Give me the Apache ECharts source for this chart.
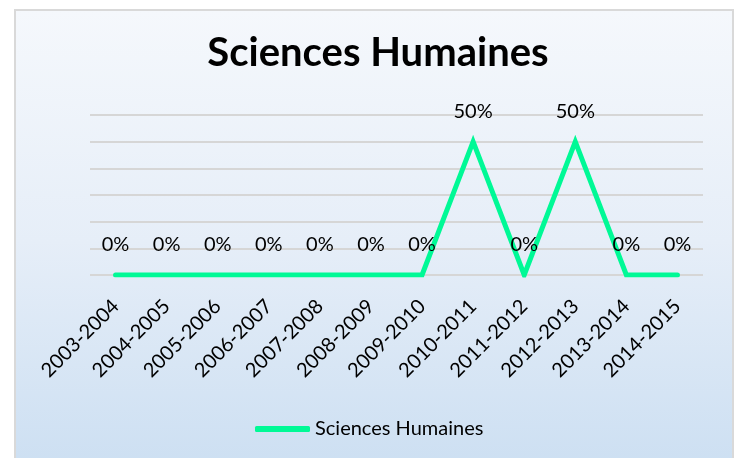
<!DOCTYPE html>
<html lang="fr">
<head>
	<meta charset="UTF-8">
	<title>Sciences Humaines</title>
	<style>
		html, body {
			margin: 0;
			padding: 0;
			background: #fff;
		}
		#frame {
			position: absolute;
			left: 14px;
			top: 9px;
			width: 716px;
			height: 460px;
			border: 2px solid #D9D9D9;
			background: linear-gradient(to bottom, #F5F8FC 0%, #E6EEF8 50%, #CCDFF2 100%);
		}
		#main {
			position: absolute;
			left: 0;
			top: 0;
			width: 736px;
			height: 458px;
		}
	</style>
	<script src="https://cdn.jsdelivr.net/npm/echarts@6/dist/echarts.min.js"></script>
</head>
<body>
	<div id="frame"></div>
	<div id="main"></div>

	<script>
		// années scolaires
		var years = ['2003-2004', '2004-2005', '2005-2006', '2006-2007', '2007-2008', '2008-2009',
			'2009-2010', '2010-2011', '2011-2012', '2012-2013', '2013-2014', '2014-2015'];
		// pourcentages
		var values = [0, 0, 0, 0, 0, 0, 0, 50, 0, 50, 0, 0];
		var seriesName = 'Sciences Humaines';

		var font = 'Lato, "DejaVu Sans", sans-serif';
		var green = '#00F996';

		var myChart = echarts.init(document.getElementById('main'));

		var option = {
			animation: false,
			title: {
				text: 'Sciences Humaines',
				left: 373,
				textAlign: 'center',
				top: 28,
				textStyle: {
					fontFamily: font,
					fontSize: 40,
					fontWeight: 'bold',
					color: '#000'
				}
			},
			legend: {
				data: [seriesName],
				left: 250,
				top: 414,
				icon: 'roundRect',
				itemWidth: 55,
				itemHeight: 6,
				textStyle: {
					fontFamily: font,
					fontSize: 20,
					color: '#000'
				}
			},
			grid: {
				left: 90,
				right: 33,
				top: 115,
				bottom: 183,
				containLabel: false
			},
			xAxis: {
				type: 'category',
				data: years,
				boundaryGap: true,
				axisLine: { show: false },
				axisTick: { show: false },
				axisLabel: {
					rotate: 45,
					margin: 28,
					interval: 0,
					fontFamily: font,
					fontSize: 20,
					color: '#000'
				}
			},
			yAxis: {
				type: 'value',
				min: 0,
				max: 60,
				interval: 10,
				axisLine: { show: false },
				axisTick: { show: false },
				axisLabel: { show: false },
				splitLine: {
					lineStyle: { color: '#D6D6D6', width: 2 }
				}
			},
			series: [{
				name: seriesName,
				type: 'line',
				data: values,
				symbol: 'circle',
				symbolSize: 0,
				showSymbol: true,
				color: green,
				lineStyle: {
					color: green,
					width: 5,
					cap: 'round',
					join: 'miter'
				},
				label: {
					show: true,
					position: 'top',
					distance: 20,
					formatter: '{c}%',
					fontFamily: font,
					fontSize: 20,
					color: '#000'
				}
			}]
		};

		myChart.setOption(option);
	</script>
</body>
</html>
